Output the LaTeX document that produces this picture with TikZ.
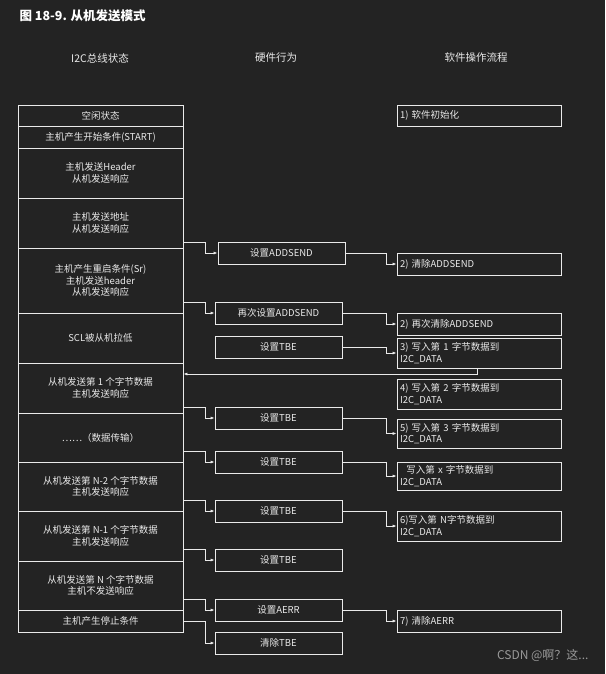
\documentclass[tikz,border=0pt]{standalone}
\usepackage{fontspec}
\setmainfont{Noto Sans CJK SC}
\usetikzlibrary{arrows.meta}
\definecolor{bg}{HTML}{232323}
\definecolor{fg}{HTML}{EAEAEA}
\begin{document}
\begin{tikzpicture}[x=1pt,y=-1pt,
  bx/.style={draw=fg,line width=0.8pt,inner sep=0pt,text=fg,font=\fontsize{9.5}{11.5}\selectfont,align=center},
  rb/.style={bx,align=left,inner xsep=3pt,text width=158pt},
  ln/.style={draw=fg,line width=0.7pt},
  ar/.style={ln,-{Latex[length=4pt,width=3pt]}},
  hd/.style={text=fg,font=\fontsize{10.5}{12}\selectfont}]
\fill[bg] (0,0) rectangle (605,674);
\useasboundingbox (0,0) rectangle (605,674);
\node[anchor=west,text=white,font=\bfseries\fontsize{12.5}{14}\selectfont] (title) at (16,16) {图 18-9. 从机发送模式};
\node[hd] (h1) at (100,58) {I2C总线状态};
\node[hd] (h2) at (276,58) {硬件行为};
\node[hd] (h3) at (476,58) {软件操作流程};
% left column
\newcommand{\lbox}[4]{\node[bx,minimum width=165pt,minimum height={#3-#2}] (#1) at (100.5,{(#2+#3)/2}) {#4};}
\lbox{l1}{105}{126}{空闲状态}
\lbox{l2}{126}{148}{主机产生开始条件(START)}
\lbox{l3}{148}{198}{主机发送Header\\从机发送响应}
\lbox{l4}{198}{248}{主机发送地址\\从机发送响应}
\lbox{l5}{248}{313}{主机产生重启条件(Sr)\\主机发送header\\从机发送响应}
\lbox{l6}{313}{363}{SCL被从机拉低}
\lbox{l7}{363}{413}{从机发送第 1 个字节数据\\主机发送响应}
\lbox{l8}{413}{462}{……（数据传输）}
\lbox{l9}{462}{511}{从机发送第 N-2 个字节数据\\主机发送响应}
\lbox{l10}{511}{561}{从机发送第 N-1 个字节数据\\主机发送响应}
\lbox{l11}{561}{610}{从机发送第 N 个字节数据\\主机不发送响应}
\lbox{l12}{610}{632}{主机产生停止条件}
% middle
\newcommand{\midbox}[5]{\node[bx,minimum width=127pt,minimum height=22pt] (#1) at (#2,#3) {#4};
  \coordinate (#1s) at (183,#5);
  \draw[ar] (#1s) -- (205,#5) |- (#1.west);}
\midbox{m1}{281.5}{253}{设置ADDSEND}{242}
\midbox{m2}{278.5}{313}{再次设置ADDSEND}{302}
\node[bx,minimum width=127pt,minimum height=22pt] (m3) at (278.5,347) {设置TBE};
\midbox{m4}{278.5}{418}{设置TBE}{407}
\midbox{m5}{278.5}{462}{设置TBE}{451}
\midbox{m6}{278.5}{511}{设置TBE}{500}
\midbox{m7}{278.5}{560}{设置TBE}{549}
\midbox{m8}{278.5}{610}{设置AERR}{599}
\midbox{m9}{278.5}{643}{清除TBE}{621}
% right
\newcommand{\rbox}[4]{\node[rb,minimum height={#3-#2}] (#1) at (479,{(#2+#3)/2}) {#4};}
\rbox{r1}{105}{126}{1) 软件初始化}
\rbox{r2}{253}{275}{2) 清除ADDSEND}
\rbox{r3}{313}{335}{2) 再次清除ADDSEND}
\rbox{r4}{338}{368}{3) 写入第 1 字节数据到\\I2C\_DATA}
\rbox{r5}{379}{409}{4) 写入第 2 字节数据到\\I2C\_DATA}
\rbox{r6}{419}{448}{5) 写入第 3 字节数据到\\I2C\_DATA}
\rbox{r7}{462}{490}{\ \ 写入第 x 字节数据到\\I2C\_DATA}
\rbox{r8}{511}{541}{6)写入第 N字节数据到\\I2C\_DATA}
\rbox{r9}{610}{632}{7) 清除AERR}
\foreach \m/\r in {m1/r2,m2/r3,m3/r4,m5/r7,m6/r8,m8/r9}{
  \draw[ar] (\m.east) -- (386,0 |- \m.east) |- (\r.west);}
\draw[ar] (m4.east) -- (386,418) |- (r6.west);
\draw[ar] (477,368) -- (477,374) -- (l7.east |- 0,374);
\node[text=gray!80,font=\fontsize{12}{14}\selectfont,anchor=east] (wm) at (592,655) {CSDN @啊？这...};
\end{tikzpicture}
\end{document}
